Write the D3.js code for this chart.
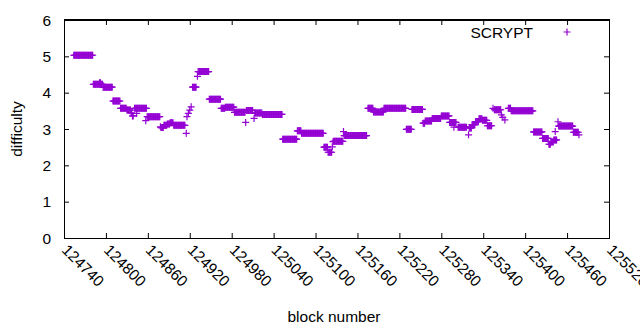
<!DOCTYPE html>
<html>
<head>
<meta charset="utf-8">
<script src="https://cdn.jsdelivr.net/npm/d3@7"></script>
<style>
  body { margin: 0; background: #fff; }
  svg { display: block; font-family: "Liberation Sans", Arial, sans-serif; }
</style>
</head>
<body>
<div class="vis-scatter"></div>
<script>
// difficulty runs: block range and value
const runStart = [124754,124782,124791,124796,124810,124821,124830,124836,124838,124841,124844,124857,124859,124878,124879,124883,124888,124892,124897,124915,124916,124918,124920,124922,124924,124931,124932,124948,124965,124971,124984,125000,125001,125012,125013,125024,125053,125074,125080,125112,125118,125124,125125,125126,125140,125141,125175,125183,125198,125230,125238,125254,125257,125267,125280,125292,125298,125304,125319,125320,125324,125329,125334,125339,125346,125354,125356,125366,125368,125371,125376,125380,125412,125425,125434,125437,125441,125443,125447,125448,125469,125477];
const runEnd   = [124781,124795,124792,124809,124820,124829,124835,124837,124839,124858,124844,124857,124877,124878,124882,124887,124891,124896,124913,124915,124916,124918,124920,124922,124929,124931,124947,124964,124970,124983,124999,125000,125010,125012,125023,125052,125073,125079,125111,125117,125123,125124,125125,125139,125140,125173,125182,125197,125229,125237,125253,125256,125266,125279,125291,125301,125298,125316,125319,125323,125328,125333,125338,125345,125352,125354,125365,125366,125368,125371,125379,125411,125424,125433,125436,125440,125445,125443,125447,125468,125476,125477];
const runValue = [5.03,4.23,4.27,4.15,3.77,3.57,3.52,3.44,3.36,3.57,3.43,3.23,3.34,3.06,3.04,3.10,3.14,3.17,3.10,2.88,3.34,3.43,3.52,3.61,4.15,4.45,4.58,3.82,3.57,3.60,3.46,3.18,3.51,3.29,3.44,3.40,2.72,2.95,2.88,2.50,2.36,2.51,2.65,2.66,2.93,2.82,3.57,3.47,3.57,2.99,3.54,3.16,3.22,3.29,3.36,3.18,3.05,3.05,2.84,3.03,3.12,3.20,3.28,3.24,3.09,3.57,3.53,3.39,3.32,3.25,3.57,3.50,2.92,2.74,2.58,2.64,2.70,2.93,3.20,3.08,2.91,2.84];

const xTicks = [124740,124800,124860,124920,124980,125040,125100,125160,125220,125280,125340,125400,125460,125520];
const yTicks = [0,1,2,3,4,5,6];
const seriesName = "SCRYPT";

const W = 640, H = 330;
const color = "#9400d3";
const fs = 15.5;

// one point per block inside each run
const data = [];
runStart.forEach(function(s, i) {
    for (let b = s; b <= runEnd[i]; b++) data.push({ block: b, value: runValue[i] });
});

const svg = d3.select(".vis-scatter").append("svg")
    .attr("width", W).attr("height", H);

const x = d3.scaleLinear().domain([124740, 125520]).range([64, 609]);
const y = d3.scaleLinear().domain([0, 6]).range([238, 20]);

// border + ticks (gnuplot style, inward, mirrored)
svg.append("g").attr("transform", "translate(0,238)")
    .call(d3.axisBottom(x).tickValues(xTicks).tickSize(-5).tickSizeOuter(0).tickFormat(""));
svg.append("g").attr("transform", "translate(0,20)")
    .call(d3.axisTop(x).tickValues(xTicks).tickSize(-5).tickSizeOuter(0).tickFormat(""));
svg.append("g").attr("transform", "translate(64,0)")
    .call(d3.axisLeft(y).tickValues(yTicks).tickSize(-5).tickSizeOuter(0).tickFormat(""));
svg.append("g").attr("transform", "translate(609,0)")
    .call(d3.axisRight(y).tickValues(yTicks).tickSize(-5).tickSizeOuter(0).tickFormat(""));
svg.selectAll(".domain, .tick line").attr("stroke", "#000").attr("stroke-width", 1);

svg.append("rect")
    .attr("x", 64.5).attr("y", 19.5).attr("width", 545).attr("height", 219)
    .attr("fill", "none").attr("stroke", "#000");

// tick labels
svg.append("g").selectAll("text").data(yTicks).enter().append("text")
    .attr("x", 51).attr("y", function(d) { return y(d) + 5.5; })
    .attr("text-anchor", "end").attr("font-size", fs)
    .text(function(d) { return d; });

svg.append("g").selectAll("text").data(xTicks).enter().append("text")
    .attr("transform", function(d) { return "translate(" + (x(d) - 3) + ",251) rotate(45)"; })
    .attr("text-anchor", "start").attr("font-size", fs)
    .text(function(d) { return d; });

// axis titles
svg.append("text").attr("x", 334).attr("y", 322)
    .attr("text-anchor", "middle").attr("font-size", fs).text("block number");
svg.append("text").attr("transform", "translate(22,129) rotate(-90)")
    .attr("text-anchor", "middle").attr("font-size", fs).text("difficulty");

// points as "+" markers
const plus = "M-3.5,0H3.5M0,-3.5V3.5";
svg.append("g").selectAll("path").data(data).enter().append("path")
    .attr("transform", function(d) { return "translate(" + x(d.block) + "," + y(d.value) + ")"; })
    .attr("d", plus)
    .attr("stroke", color).attr("stroke-width", 1.2).attr("fill", "none");

// legend
svg.append("text").attr("x", 533).attr("y", 37.5)
    .attr("text-anchor", "end").attr("font-size", fs).text(seriesName);
svg.append("path").attr("transform", "translate(567,32)")
    .attr("d", plus).attr("stroke", color).attr("stroke-width", 1.2);
</script>
</body>
</html>
